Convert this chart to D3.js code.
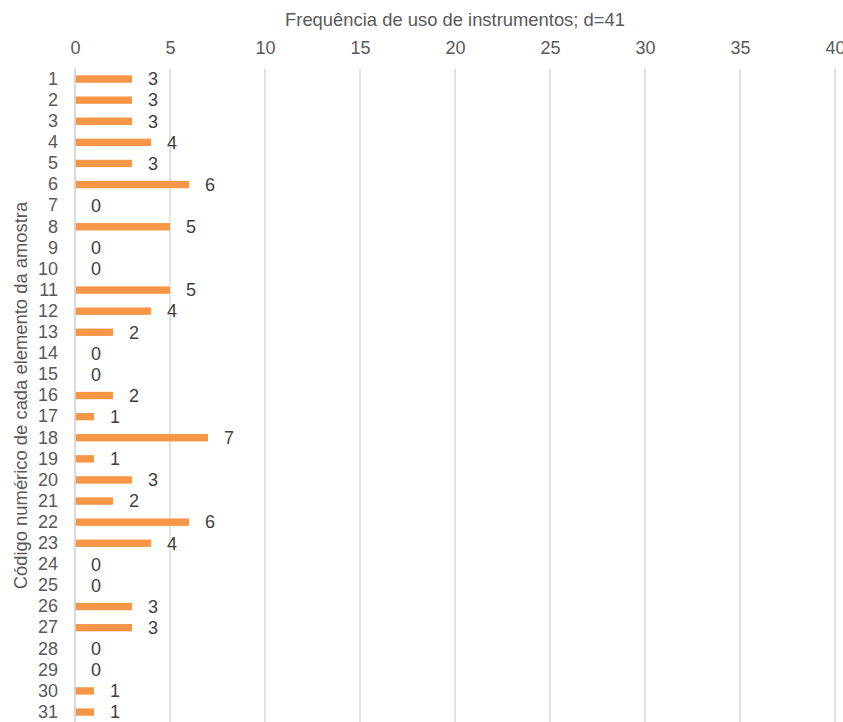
<!DOCTYPE html>
<html>
<head>
<meta charset="utf-8">
<script src="https://cdn.jsdelivr.net/npm/d3@7"></script>
<style>
  html, body { margin: 0; padding: 0; background: #ffffff; }
  svg { display: block; font-family: "Liberation Sans", Arial, sans-serif; }
</style>
</head>
<body>
<svg id="chart" width="843" height="722"></svg>
<script>
// Sample element codes and how often each used instruments
const codes = d3.range(1, 32).map(String);
const frequencies = [3, 3, 3, 4, 3, 6, 0, 5, 0, 0, 5, 4, 2, 0, 0, 2, 1, 7, 1, 3, 2, 6, 4, 0, 0, 3, 3, 0, 0, 1, 1];
const xTicks = [0, 5, 10, 15, 20, 25, 30, 35, 40];
const xTitle = "Frequência de uso de instrumentos; d=41";
const yTitle = "Código numérico de cada elemento da amostra";

const svg = d3.select("#chart");
const plot = { left: 75, right: 835, top: 68.5, bottom: 722.6 };

const x = d3.scaleLinear().domain([0, 40]).range([plot.left, plot.right]);
const y = d3.scaleBand().domain(codes).range([plot.top, plot.bottom])
  .paddingInner(0.65).paddingOuter(0.325);

const axisColor = "#595959";
const labelColor = "#404040";
const gridColor = "#D9D9D9";
const font = "Liberation Sans, Arial, sans-serif";

// vertical gridlines
svg.append("g")
  .selectAll("line")
  .data(xTicks)
  .join("line")
  .attr("x1", d => x(d)).attr("x2", d => x(d))
  .attr("y1", plot.top).attr("y2", plot.bottom)
  .attr("stroke", gridColor)
  .attr("stroke-width", 1.5);

// top value axis (labels only)
const xAxis = svg.append("g")
  .attr("transform", `translate(0,${plot.top - 15})`)
  .call(d3.axisTop(x).tickValues(xTicks).tickSize(0).tickPadding(0));
xAxis.attr("font-family", font);
xAxis.select(".domain").remove();
xAxis.selectAll("text")
  .attr("font-size", 18)
  .attr("fill", axisColor);

// category axis (labels only)
const yAxis = svg.append("g")
  .attr("transform", `translate(${plot.left - 17},0)`)
  .call(d3.axisLeft(y).tickSize(0).tickPadding(0));
yAxis.attr("font-family", font);
yAxis.select(".domain").remove();
yAxis.selectAll("text")
  .attr("font-size", 18)
  .attr("fill", axisColor);

// bars
svg.append("g")
  .selectAll("rect")
  .data(frequencies)
  .join("rect")
  .attr("x", x(0))
  .attr("y", (d, i) => y(codes[i]))
  .attr("width", d => x(d) - x(0))
  .attr("height", y.bandwidth())
  .attr("fill", "#F79646");

// zero baseline over the bar ends
svg.append("line")
  .attr("x1", x(0)).attr("x2", x(0))
  .attr("y1", plot.top).attr("y2", plot.bottom)
  .attr("stroke", gridColor)
  .attr("stroke-width", 1.5);

// value labels
svg.append("g")
  .selectAll("text")
  .data(frequencies)
  .join("text")
  .attr("x", d => x(d) + 16)
  .attr("y", (d, i) => y(codes[i]) + y.bandwidth() / 2)
  .attr("dy", "0.35em")
  .attr("font-size", 18)
  .attr("fill", labelColor)
  .text(d => d);

// axis titles
svg.append("text")
  .attr("x", (plot.left + plot.right) / 2)
  .attr("y", 26)
  .attr("text-anchor", "middle")
  .attr("font-size", 18.4)
  .attr("fill", axisColor)
  .text(xTitle);

svg.append("text")
  .attr("transform", `translate(27,${(plot.top + plot.bottom) / 2}) rotate(-90)`)
  .attr("text-anchor", "middle")
  .attr("font-size", 18.4)
  .attr("fill", axisColor)
  .text(yTitle);
</script>
</body>
</html>
